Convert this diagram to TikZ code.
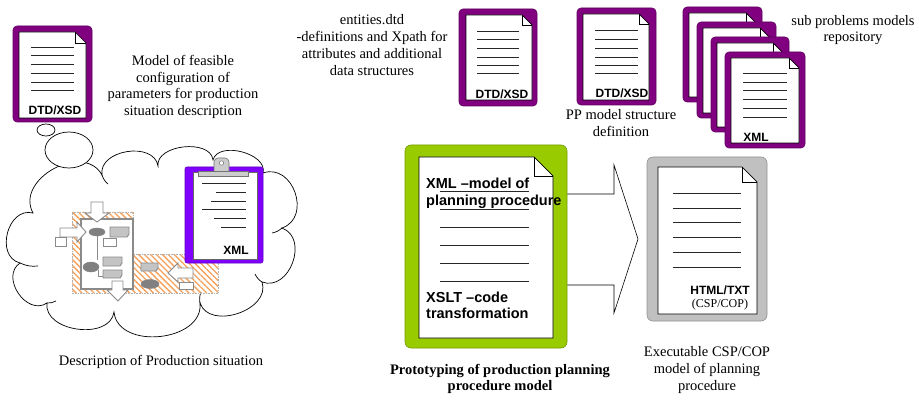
\documentclass[tikz,border=0pt]{standalone}
\usepackage{fontspec}
\setmainfont{Liberation Serif}
\newfontfamily\arialfont{Liberation Sans}
\usetikzlibrary{patterns.meta}

\definecolor{docpurple}{HTML}{800080}
\definecolor{clipviolet}{HTML}{7F00FF}
\definecolor{limegreen}{HTML}{99CC00}
\definecolor{framegrey}{HTML}{C0C0C0}
\definecolor{hatchorange}{HTML}{F5A05A}
\definecolor{partdark}{HTML}{808080}
\definecolor{partlight}{HTML}{C4C4C4}
\definecolor{partedge}{HTML}{8A8A8A}

\tikzset{
  docframe/.style={draw=#1!75!black, fill=#1, rounded corners=4pt, line width=0.6pt, inner sep=0pt},
  pageline/.style={draw=black, fill=white, line width=0.7pt},
  docline/.style={draw=black!85, line width=0.8pt},
  labeltext/.style={font=\fontsize{14.5}{16.7}\selectfont, align=center, inner sep=0pt},
  boldlabel/.style={font=\bfseries\fontsize{14.5}{16.7}\selectfont, align=center, inner sep=0pt},
  tagtext/.style={font={\arialfont\bfseries\fontsize{12}{14}\selectfont}, inner sep=0pt},
  smallserif/.style={font=\fontsize{12}{14}\selectfont, inner sep=0pt},
  greentext/.style={font={\arialfont\bfseries\fontsize{14.5}{16.5}\selectfont}, inner sep=0pt, anchor=base west},
  cloudline/.style={draw=black, fill=white, line width=0.7pt},
  cloudtail/.style={draw=black, line width=0.7pt},
  puff/.style={bend left=90, looseness=#1},
  blockarrow/.style={draw=partedge, fill=white, line width=0.9pt},
  smallbox/.style={draw=partedge, fill=white, line width=0.7pt},
  partoval/.style={fill=partdark, draw=partdark},
  partdoc/.style={fill=partlight, draw=partedge, line width=0.9pt},
  bigarrow/.style={draw=black, line width=0.6pt, line join=miter},
}

% page with a folded top-right corner: left, top, right, bottom, fold size
\newcommand\docpage[5]{%
  \filldraw[pageline] (#1,-#2) -- ({#3-#5},-#2) -- (#3,{-#2-#5}) -- (#3,-#4) -- (#1,-#4) -- cycle;
  \draw[pageline, fill=none] ({#3-#5},-#2) -- ({#3-#5},{-#2-#5}) -- (#3,{-#2-#5});
}
% ruled text lines on a page: left x, right x, list of y
\newcommand\doclines[3]{\foreach \yy in {#3} \draw[docline] (#1,-\yy) -- (#2,-\yy);}
% small grey document symbol: left, top, right, bottom
\newcommand\partdoc[4]{%
  \filldraw[partdoc] (#1,-#2) -- (#3,-#2) -- (#3,{-#4+3}) -- ({#3-2},-#4) -- (#1,-#4) -- cycle;
}

\begin{document}
\begin{tikzpicture}[x=1pt, y=1pt]
\useasboundingbox (0,0) rectangle (919,-401);

% ---------- production situation cloud ----------
\coordinate (J1) at (33,-213);
\coordinate (J2) at (102,-175);
\coordinate (J3) at (158,-166);
\coordinate (J4) at (213,-160);
\coordinate (J5) at (263,-173);
\coordinate (J6) at (282,-228);
\coordinate (J7) at (262,-282);
\coordinate (J8) at (200,-303);
\coordinate (J9) at (114,-312);
\coordinate (J10) at (47,-303);
\coordinate (J11) at (20,-263);
\draw[cloudline]
  (J1) to[puff=1.25] (J2) to[puff=1.15] (J3) to[puff=1.0] (J4)
  to[puff=1.0] (J5) to[puff=1.4] (J6) to[puff=1.3] (J7)
  to[puff=1.15] (J8) to[puff=1.15] (J9) to[puff=1.1] (J10)
  to[puff=1.3] (J11) to[puff=1.3] (J1) -- cycle;
% short inner strokes where the puffs overlap
\draw[cloudtail] (J11) to[bend right=15] (38,-266);
\draw[cloudtail] (J10) to[bend right=15] (56,-301);
\draw[cloudtail] (J8) to[bend left=15] (201,-292);
\draw[cloudtail] (J6) to[bend left=15] (272,-233);
\draw[cloudtail] (J2) to[bend right=15] (108,-184);
\draw[cloudtail] (J7) to[bend left=15] (255,-274);

% thought bubbles
\filldraw[cloudline] (69,-150) ellipse[x radius=24, y radius=18];
\filldraw[cloudline] (46,-130) ellipse[x radius=9, y radius=6];

% ---------- process sketch inside the cloud ----------
\path[pattern={Lines[angle=-45, distance=4.2pt, line width=1.3pt]}, pattern color=hatchorange]
  (72,-212) -- (133,-212) -- (133,-254) -- (218,-254) -- (218,-293) -- (72,-293) -- cycle;
\draw[draw=black!30, densely dotted, line width=0.6pt]
  (72,-212) -- (133,-212) -- (133,-254) -- (218,-254) -- (218,-293) -- (72,-293) -- cycle;
\filldraw[draw=partedge, fill=white, line width=1.4pt] (81,-219) rectangle (133,-289);

% incoming and outgoing flows
\filldraw[blockarrow] (91,-202) -- (103,-202) -- (103,-213) -- (109,-213) -- (97,-222) -- (85,-213) -- (91,-213) -- cycle;
\filldraw[blockarrow] (60,-228) -- (77,-228) -- (77,-222) -- (86,-232) -- (77,-242) -- (77,-237) -- (60,-237) -- cycle;
\filldraw[blockarrow] (112,-281) -- (123,-281) -- (123,-290) -- (128,-290) -- (118,-301) -- (107,-290) -- (112,-290) -- cycle;
\filldraw[blockarrow] (193,-268) -- (178,-268) -- (178,-263) -- (168,-273) -- (178,-282) -- (178,-278) -- (193,-278) -- cycle;

% small boxes and connecting strokes
\draw[partedge, line width=0.7pt] (97,-236) -- (97,-260);
\draw[partedge, line width=0.7pt] (98,-270) -- (98,-276) -- (103,-276);
\filldraw[smallbox] (55,-237) rectangle (66,-246);
\filldraw[smallbox] (103,-238) rectangle (116,-246);
\filldraw[smallbox] (179,-282) rectangle (193,-289);

% operations (ovals) and documents
\filldraw[partoval] (97,-232) ellipse[x radius=8, y radius=4];
\filldraw[partoval] (91,-267) ellipse[x radius=8, y radius=5];
\filldraw[partoval] (150,-284) ellipse[x radius=9, y radius=4.5];
\partdoc{110}{227}{129}{237}
\partdoc{103}{257}{122}{266}
\partdoc{103}{270}{122}{278}
\partdoc{141}{263}{158}{271}

% ---------- XML clipboard ----------
\node[docframe=clipviolet, rounded corners=2pt, minimum width=78, minimum height=96] (clip) at (224,-215) {};
\filldraw[draw=black!60, fill=white, line width=0.6pt] (193,-172) rectangle (257,-259);
\filldraw[draw=black!55, fill=black!20, line width=0.6pt, rounded corners=4pt] (214,-174) -- (214,-158) -- (229,-158) -- (229,-174);
\filldraw[draw=black!55, fill=black!20, line width=0.6pt] (198,-171) rectangle (248,-176);
\filldraw[draw=black!55, fill=white, line width=0.5pt] (221.5,-163) circle[radius=2.2];
\draw[docline] (202,-183) -- (246,-183);
\draw[docline] (216,-192) -- (246,-192);
\draw[docline] (211,-201) -- (246,-201);
\draw[docline] (202,-209) -- (246,-209);
\draw[docline] (214,-218) -- (246,-218);
\draw[docline] (221,-227) -- (246,-227);
\node[tagtext] (clipxml) at (236,-250) {XML};

% ---------- feasible configuration schema ----------
\node[docframe=docpurple, minimum width=79, minimum height=96] (cfgdoc) at (52.5,-74) {};
\docpage{19}{32}{86}{118}{11}
\doclines{31}{74}{47,55,64,73,82,90}
\node[tagtext] (cfgtag) at (55,-110) {DTD/XSD};
\node[labeltext] (cfglabel) at (183,-87) {Model of feasible\\configuration of\\parameters for production\\situation description};

% ---------- entities schema ----------
\node[labeltext] (entlabel) at (372,-45) {entities.dtd\\-definitions and Xpath for\\attributes and additional\\data structures};
\node[docframe=docpurple, minimum width=78, minimum height=97] (entdoc) at (498,-57.5) {};
\docpage{466}{15}{532}{100}{10}
\doclines{477}{519}{31,39,48,57,65,73}
\node[tagtext] (enttag) at (502,-94) {DTD/XSD};

% ---------- PP model structure ----------
\node[docframe=docpurple, minimum width=79, minimum height=97] (ppdoc) at (616.5,-56.5) {};
\docpage{583}{14}{649}{100}{10}
\doclines{595}{638}{30,39,48,57,65,73}
\node[tagtext] (pptag) at (622,-93) {DTD/XSD};
\node[labeltext] (pplabel) at (621,-123) {PP model structure\\definition};

% ---------- sub problem repository ----------
\node[docframe=docpurple, minimum width=79, minimum height=95] (subA) at (722.5,-54.5) {};
\docpage{689}{13}{756}{97}{10}
\node[docframe=docpurple, minimum width=79, minimum height=96] (subB) at (736.5,-70) {};
\docpage{703}{28}{770}{113}{10}
\node[docframe=docpurple, minimum width=78, minimum height=95] (subC) at (750,-84.5) {};
\docpage{717}{43}{783}{127}{10}
\node[docframe=docpurple, minimum width=80, minimum height=96] (subD) at (765,-100) {};
\docpage{731}{58}{799}{143}{10}
\doclines{743}{787}{73,82,90,99,108,117}
\node[tagtext] (subtag) at (756,-137) {XML};
\node[labeltext] (sublabel) at (853,-30) {sub problems models\\repository};

% ---------- planning procedure prototype ----------
\node[docframe=limegreen, rounded corners=6pt, minimum width=162, minimum height=203] (green) at (486,-246.5) {};
\docpage{419}{157}{553}{338}{19}
\doclines{440}{529}{191,209,227,245,263,281}
\node[greentext] (gt1) at (426,-189) {XML –model of};
\node[greentext] (gt2) at (426,-205.5) {planning procedure};
\node[greentext] (gt3) at (426,-302) {XSLT –code};
\node[greentext] (gt4) at (426,-318.5) {transformation};
\node[boldlabel] (greenlabel) at (500,-379) {Prototyping of production planning\\procedure model};

% ---------- executable model ----------
\node[docframe=framegrey, rounded corners=6pt, minimum width=120, minimum height=164] (greyframe) at (707,-239) {};
\docpage{658}{167}{757}{314}{15}
\doclines{673}{741}{193,208,222,237,252,267}
\node[tagtext] (greytag) at (720,-290) {HTML/TXT};
\node[smallserif] (greysub) at (720,-305) {(CSP/COP)};
\node[labeltext] (greylabel) at (707,-370) {Executable CSP/COP\\model of planning\\procedure};

% transformation arrow
\coordinate (tip) at (638,-239);
\draw[bigarrow] (green.east |- 0,-194) -- (614,-194) -- (614,-165) -- (tip)
  -- (614,-313) -- (614,-285) -- (green.east |- 0,-285);

% production situation caption
\node[labeltext] (cloudlabel) at (161,-362) {Description of Production situation};
\end{tikzpicture}
\end{document}
